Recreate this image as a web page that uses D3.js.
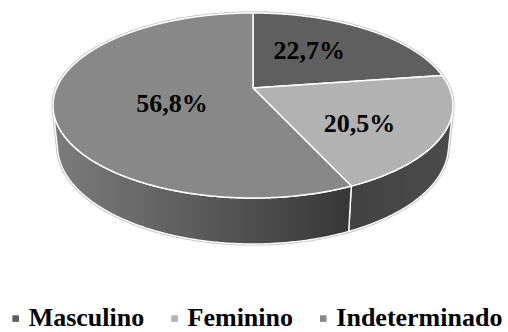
<!DOCTYPE html>
<html>
<head>
<meta charset="utf-8">
<script src="https://cdn.jsdelivr.net/npm/d3@7"></script>
<style>
  html, body { margin: 0; padding: 0; background: #fff; }
  svg { display: block; }
</style>
</head>
<body>
<svg id="chart" width="508" height="332"></svg>
<script>
// Data
const categories = ["Masculino", "Feminino", "Indeterminado"];
const shares = [22.7, 20.5, 56.8];
const sliceColors = ["#5f5f5f", "#b2b2b2", "#888888"];

// Decimal comma for the percentage labels
const ptBR = d3.formatLocale({ decimal: ",", thousands: ".", grouping: [3], currency: ["R$", ""] });
const fmtPct = v => ptBR.format(".1f")(v) + "%";

const FONT = '"Liberation Serif"';

const svg = d3.select("#chart");

// Perspective camera looking down on a unit disk of given thickness
const cam = {
  cx: 253, cy: 88,      // screen position of the disk centre
  F: 924.8,             // focal length in px
  dist: 4.709,          // camera distance (disk radii)
  elev: 27.02 * Math.PI / 180,
  thick: 0.233          // disk thickness (radii)
};
const ce = Math.cos(cam.elev), se = Math.sin(cam.elev);

// theta: clockwise from 12 o'clock (d3.pie convention); r: radius; h: height
function project(theta, r, h) {
  const X = r * Math.sin(theta), Z = -r * Math.cos(theta);
  const depth = cam.dist - (h * se + Z * ce);
  return [cam.cx + cam.F * X / depth, cam.cy - cam.F * (h * ce - Z * se) / depth];
}
function arcPts(a0, a1, h) {
  const n = Math.max(2, Math.ceil(Math.abs(a1 - a0) / (Math.PI / 360)));
  return d3.range(n + 1).map(i => project(a0 + (a1 - a0) * i / n, 1, h));
}
const line = d3.line();

const pie = d3.pie().sort(null).value(d => d)(shares);

// visible range of the side wall (faces turned towards the camera)
const wallLimit = Math.acos(-1 / (cam.dist * ce));
const visA0 = wallLimit, visA1 = 2 * Math.PI - wallLimit;
const bottomH = -cam.thick;

const defs = svg.append("defs");

// wall shading per slice: lit from the left, darkening towards the right
const wallShade = [
  [{ o: 0, c: "#4a4a4a" }, { o: 1, c: "#3a3a3a" }],
  [{ o: 0, c: "#424242" }, { o: 1, c: "#4b4b4b" }],
  [{ o: 0, c: "#7b7b7b" }, { o: 0.3, c: "#686868" }, { o: 0.7, c: "#4c4c4c" }, { o: 1, c: "#363636" }]
];

const gShadow = svg.append("g");
const gWalls = svg.append("g");
const gTop = svg.append("g");
const gLabels = svg.append("g");

// outer silhouette halo
const silhouette = arcPts(visA1, visA0 + 2 * Math.PI, 0)
  .concat(arcPts(visA0, visA1, bottomH));
gShadow.append("path")
  .attr("d", line(silhouette) + "Z")
  .attr("fill", "none")
  .attr("stroke", "#c4c4c4")
  .attr("stroke-width", 3.2)
  .attr("stroke-linejoin", "round");

// side walls
pie.forEach((s, i) => {
  const a0 = Math.max(s.startAngle, visA0), a1 = Math.min(s.endAngle, visA1);
  if (a1 <= a0) return;
  const topArc = arcPts(a0, a1, 0);
  const botArc = arcPts(a0, a1, bottomH).reverse();
  const xs = topArc.concat(botArc).map(p => p[0]);
  const id = "wall" + i;
  const grad = defs.append("linearGradient").attr("id", id)
    .attr("gradientUnits", "userSpaceOnUse")
    .attr("x1", d3.min(xs)).attr("x2", d3.max(xs)).attr("y1", 0).attr("y2", 0);
  grad.selectAll("stop").data(wallShade[i]).join("stop")
    .attr("offset", d => d.o).attr("stop-color", d => d.c);
  gWalls.append("path")
    .attr("d", line(topArc.concat(botArc)) + "Z")
    .attr("fill", `url(#${id})`)
    .attr("stroke", "#ffffff")
    .attr("stroke-width", 1.4)
    .attr("stroke-linejoin", "round");
});

// top faces
pie.forEach((s, i) => {
  const pts = [project(0, 0, 0)].concat(arcPts(s.startAngle, s.endAngle, 0));
  gTop.append("path")
    .attr("d", line(pts) + "Z")
    .attr("fill", sliceColors[i])
    .attr("stroke", "#ffffff")
    .attr("stroke-width", 1.5)
    .attr("stroke-linejoin", "round");
});

// percentage labels: placed near the sector centroid, then nudged
const labelNudge = [[-16, 9], [-7, 16], [-10, 17]];
pie.forEach((s, i) => {
  const alpha = s.endAngle - s.startAngle;
  const rc = 4 * Math.sin(alpha / 2) / (3 * alpha);
  const p = project((s.startAngle + s.endAngle) / 2, rc, 0);
  gLabels.append("text")
    .attr("x", p[0] + labelNudge[i][0])
    .attr("y", p[1] + labelNudge[i][1])
    .attr("text-anchor", "middle")
    .style("font-family", FONT)
    .style("font-weight", "bold")
    .style("font-size", "26px")
    .attr("fill", "#000")
    .text(fmtPct(s.data));
});

// legend
const legend = svg.append("g");
const legendY = 326.3, mk = 6.6, mkGap = 9.7, itemGap = 27;
const items = categories.map((c, i) => {
  const g = legend.append("g");
  g.append("rect").attr("width", mk).attr("height", mk)
    .attr("y", legendY - 11).attr("fill", sliceColors[i]);
  const t = g.append("text").attr("x", mk + mkGap).attr("y", legendY)
    .style("font-family", FONT)
    .style("font-weight", "bold")
    .style("font-size", "26px").attr("fill", "#000").text(c);
  return { g, w: mk + mkGap + t.node().getComputedTextLength() };
});
const totalW = d3.sum(items, d => d.w) + itemGap * (items.length - 1);
let x = 257.4 - totalW / 2;
items.forEach(it => { it.g.attr("transform", `translate(${x},0)`); x += it.w + itemGap; });
</script>
</body>
</html>
